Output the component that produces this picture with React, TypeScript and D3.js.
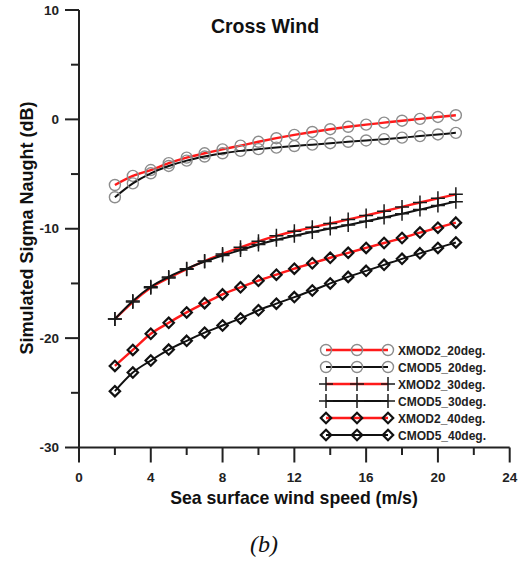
import React from "react";
import * as d3 from "d3";

// Wind speeds (m/s) at which each model was evaluated
const windSpeed = [2, 3, 4, 5, 6, 7, 8, 9, 10, 11, 12, 13, 14, 15, 16, 17, 18, 19, 20, 21];

// Simulated sigma naught (dB), cross-wind direction
const xmod2_20 = [-6.0, -5.17, -4.63, -4.0, -3.5, -3.1, -2.74, -2.4, -2.05, -1.72, -1.42, -1.15, -0.9, -0.68, -0.48, -0.3, -0.12, 0.05, 0.22, 0.38];
const cmod5_20 = [-7.12, -5.85, -4.93, -4.26, -3.77, -3.4, -3.1, -2.88, -2.72, -2.58, -2.44, -2.31, -2.18, -2.05, -1.93, -1.81, -1.67, -1.53, -1.38, -1.23];
const xmod2_30 = [-18.25, -16.7, -15.4, -14.5, -13.7, -12.95, -12.3, -11.7, -11.15, -10.65, -10.23, -9.87, -9.52, -9.15, -8.78, -8.4, -8.0, -7.6, -7.22, -6.85];
const cmod5_30 = [-18.25, -16.6, -15.3, -14.4, -13.65, -13.0, -12.45, -11.95, -11.45, -11.0, -10.64, -10.3, -9.97, -9.65, -9.32, -8.98, -8.62, -8.25, -7.88, -7.52];
const xmod2_40 = [-22.54, -21.08, -19.6, -18.6, -17.65, -16.8, -16.0, -15.35, -14.75, -14.2, -13.65, -13.15, -12.65, -12.2, -11.75, -11.3, -10.85, -10.35, -9.9, -9.44];
const cmod5_40 = [-24.85, -23.15, -22.05, -21.05, -20.25, -19.5, -18.85, -18.2, -17.45, -16.85, -16.25, -15.65, -15.0, -14.4, -13.85, -13.3, -12.75, -12.25, -11.75, -11.25];

const seriesNames = ["XMOD2_20deg.", "CMOD5_20deg.", "XMOD2_30deg.", "CMOD5_30deg.", "XMOD2_40deg.", "CMOD5_40deg."];
const seriesValues = [xmod2_20, cmod5_20, xmod2_30, cmod5_30, xmod2_40, cmod5_40];
const seriesColors = ["#ff1a1a", "#111111", "#ff1a1a", "#111111", "#ff1a1a", "#111111"];
const seriesMarkers = ["circle", "circle", "plus", "plus", "diamond", "diamond"];

const xMajorTicks = [0, 4, 8, 12, 16, 20, 24];
const xMinorTicks = [2, 6, 10, 14, 18, 22];
const yMajorTicks = [10, 0, -10, -20, -30];
const yMinorTicks = [5, -5, -15, -25];

const FONT = "'Liberation Sans', Arial, sans-serif";
const AXIS = "#222";

const x = d3.scaleLinear().domain([0, 24]).range([79, 509.7]);
const y = d3.scaleLinear().domain([-30, 10]).range([447.5, 10]);

function Marker({ kind, cx, cy }: { kind: string; cx: number; cy: number }) {
  if (kind === "circle") {
    return <circle cx={cx} cy={cy} r={5.5} fill="none" stroke="#8c8c8c" strokeWidth={1.4} />;
  }
  if (kind === "plus") {
    const h = 7;
    return (
      <path
        d={`M${cx - h},${cy}H${cx + h}M${cx},${cy - h}V${cy + h}`}
        stroke="#1a1a1a"
        strokeWidth={1.5}
        fill="none"
      />
    );
  }
  const h = 5.2;
  return (
    <path
      d={`M${cx},${cy - h}L${cx + h},${cy}L${cx},${cy + h}L${cx - h},${cy}Z`}
      stroke="#111"
      strokeWidth={2.2}
      fill="none"
    />
  );
}

export default function App() {
  const line = d3
    .line<number>()
    .x((_, i) => x(windSpeed[i]))
    .y((v) => y(v))
    .curve(d3.curveMonotoneX);

  const legendX0 = 326;
  const legendX1 = 388;
  const legendY0 = 350;
  const legendStep = 17;

  return (
    <svg
      width={526}
      height={561}
      style={{ position: "absolute", left: 0, top: 0, background: "#fff" }}
      fontFamily={FONT}
    >
      {/* title */}
      <text x={265} y={33} textAnchor="middle" fontSize={19.5} fontWeight="bold" fill="#111">
        Cross Wind
      </text>

      {/* y axis */}
      <line x1={x(0)} x2={x(0)} y1={y(10)} y2={y(-30)} stroke={AXIS} strokeWidth={2} />
      {yMajorTicks.map((t) => (
        <g key={"ym" + t}>
          <line x1={x(0) - 14} x2={x(0)} y1={y(t)} y2={y(t)} stroke={AXIS} strokeWidth={2} />
          <text x={59} y={y(t) + 4.7} textAnchor="end" fontSize={13.5} fontWeight="bold" fill="#222">
            {t}
          </text>
        </g>
      ))}
      {yMinorTicks.map((t) => (
        <line key={"yn" + t} x1={x(0) - 8} x2={x(0)} y1={y(t)} y2={y(t)} stroke={AXIS} strokeWidth={2} />
      ))}

      {/* x axis */}
      <line x1={x(0)} x2={x(24)} y1={y(-30)} y2={y(-30)} stroke={AXIS} strokeWidth={2} />
      {xMajorTicks.map((t) => (
        <g key={"xm" + t}>
          <line x1={x(t)} x2={x(t)} y1={y(-30)} y2={y(-30) + 15} stroke={AXIS} strokeWidth={2} />
          <text x={x(t)} y={482} textAnchor="middle" fontSize={13.5} fontWeight="bold" fill="#222">
            {t}
          </text>
        </g>
      ))}
      {xMinorTicks.map((t) => (
        <line key={"xn" + t} x1={x(t)} x2={x(t)} y1={y(-30)} y2={y(-30) + 7.5} stroke={AXIS} strokeWidth={2} />
      ))}

      {/* axis titles */}
      <text x={294} y={504} textAnchor="middle" fontSize={17.7} fontWeight="bold" fill="#111">
        Sea surface wind speed (m/s)
      </text>
      <text
        transform={`translate(33,228) rotate(-90)`}
        textAnchor="middle"
        fontSize={18}
        fontWeight="bold"
        fill="#111"
      >
        Simulated Sigma Naught (dB)
      </text>

      {/* series */}
      {seriesValues.map((vals, s) => (
        <g key={"s" + s}>
          <path
            d={line(vals) || ""}
            fill="none"
            stroke={seriesColors[s]}
            strokeWidth={seriesColors[s] === "#111111" ? 2 : 2.4}
          />
          {vals.map((v, i) => (
            <Marker key={i} kind={seriesMarkers[s]} cx={x(windSpeed[i])} cy={y(v)} />
          ))}
        </g>
      ))}

      {/* legend */}
      {seriesNames.map((name, s) => {
        const ly = legendY0 + s * legendStep;
        return (
          <g key={"l" + s}>
            <line
              x1={legendX0}
              x2={legendX1}
              y1={ly}
              y2={ly}
              stroke={seriesColors[s]}
              strokeWidth={seriesColors[s] === "#111111" ? 2 : 2.4}
            />
            {[legendX0, (legendX0 + legendX1) / 2, legendX1].map((mx, k) => (
              <Marker key={k} kind={seriesMarkers[s]} cx={mx} cy={ly} />
            ))}
            <text x={398} y={ly + 4.5} fontSize={12} fontWeight="bold" fill="#222">
              {name}
            </text>
          </g>
        );
      })}

      {/* panel label */}
      <text
        x={264}
        y={552}
        textAnchor="middle"
        fontSize={24}
        fontStyle="italic"
        fontFamily="'Liberation Serif', 'Times New Roman', serif"
        fill="#111"
      >
        (b)
      </text>
    </svg>
  );
}
